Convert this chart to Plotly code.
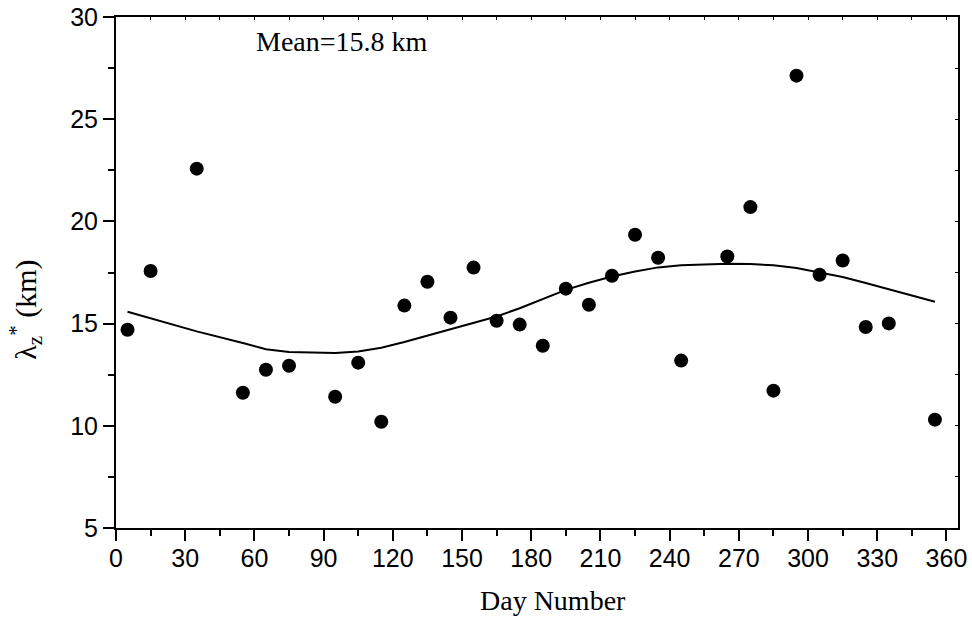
import plotly.graph_objects as go

# Observed vertical wavelength per day-of-year bin
days = [5, 15, 35, 55, 65, 75, 95, 105, 115, 125, 135, 145, 155, 165, 175, 185,
        195, 205, 215, 225, 235, 245, 265, 275, 285, 295, 305, 315, 325, 335, 355]
lambda_z = [14.70, 17.57, 22.58, 11.62, 12.74, 12.94, 11.42, 13.09, 10.20, 15.88,
            17.05, 15.29, 17.74, 15.14, 14.95, 13.92, 16.71, 15.92, 17.34, 19.35,
            18.22, 13.19, 18.28, 20.70, 11.72, 27.13, 17.39, 18.09, 14.83, 15.01,
            10.30]

# Fitted seasonal curve evaluated at the same days
fit_values = [15.58, 15.27, 14.62, 14.05, 13.75, 13.61, 13.56, 13.64, 13.82, 14.10,
              14.41, 14.74, 15.05, 15.35, 15.75, 16.20, 16.65, 17.00, 17.30, 17.55,
              17.75, 17.85, 17.93, 17.92, 17.85, 17.72, 17.51, 17.28, 16.99, 16.69,
              16.07]

mean_label = "Mean=15.8 km"
x_title = "Day Number"
y_title = "λ<sub>z</sub><sup>*</sup> (km)"
x_ticks = list(range(0, 361, 30))
y_ticks = [5, 10, 15, 20, 25, 30]

serif = "Liberation Serif, Times New Roman, serif"
sans = "Liberation Sans, Arial, sans-serif"

fig = go.Figure()

fig.add_trace(go.Scatter(
    x=days, y=fit_values, mode="lines",
    line=dict(color="black", width=2),
    showlegend=False, hoverinfo="skip",
))
fig.add_trace(go.Scatter(
    x=days, y=lambda_z, mode="markers",
    marker=dict(color="black", size=14, symbol="circle"),
    showlegend=False,
))
# Carrier trace for the top/right tick axes
fig.add_trace(go.Scatter(
    x=[None], y=[None], xaxis="x2", yaxis="y2",
    showlegend=False, hoverinfo="skip",
))

fig.add_annotation(
    x=98, y=28.8, xref="x", yref="y",
    text=mean_label, showarrow=False,
    xanchor="center", yanchor="middle",
    font=dict(family=serif, size=28, color="black"),
)
# Axis titles
fig.add_annotation(
    x=0.519, y=-0.141, xref="paper", yref="paper",
    text=x_title, showarrow=False,
    xanchor="center", yanchor="middle",
    font=dict(family=serif, size=28, color="black"),
)
fig.add_annotation(
    x=-0.107, y=0.427, xref="paper", yref="paper",
    text=y_title, showarrow=False, textangle=-90,
    xanchor="center", yanchor="middle",
    font=dict(family=serif, size=30, color="black"),
)

fig.update_layout(
    width=972, height=618,
    margin=dict(l=116, r=14, t=17, b=90),
    paper_bgcolor="white", plot_bgcolor="white",
    xaxis=dict(
        range=[0, 365], tickvals=x_ticks, automargin=False,
        ticks="outside", ticklen=11, tickwidth=2, tickcolor="black",
        ticklabelstandoff=-4,
        minor=dict(ticks="outside", ticklen=6, tickwidth=2, tickcolor="black",
                   tick0=0, dtick=15, showgrid=False),
        showline=True, linewidth=2, linecolor="black", mirror=True,
        showgrid=False, zeroline=False,
        tickfont=dict(family=sans, size=25, color="black"),
    ),
    yaxis=dict(
        range=[5, 30], tickvals=y_ticks, automargin=False,
        ticks="outside", ticklen=11, tickwidth=2, tickcolor="black",
        minor=dict(ticks="outside", ticklen=6, tickwidth=2, tickcolor="black",
                   tick0=5, dtick=2.5, showgrid=False),
        showline=True, linewidth=2, linecolor="black", mirror=True,
        showgrid=False, zeroline=False,
        tickfont=dict(family=sans, size=25, color="black"),
    ),
    xaxis2=dict(
        overlaying="x", side="top", range=[0, 365], automargin=False,
        tick0=0, dtick=15, ticks="inside", ticklen=3, tickwidth=1,
        tickcolor="black", showticklabels=False, showgrid=False,
        zeroline=False, showline=False,
    ),
    yaxis2=dict(
        overlaying="y", side="right", range=[5, 30], automargin=False,
        tick0=5, dtick=2.5, ticks="inside", ticklen=3, tickwidth=1,
        tickcolor="black", showticklabels=False, showgrid=False,
        zeroline=False, showline=False,
    ),
)

fig.write_html("out.html")
